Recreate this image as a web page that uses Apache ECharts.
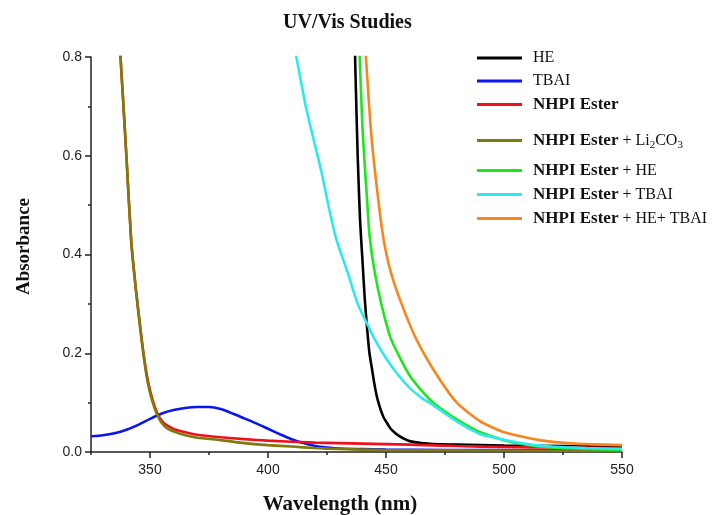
<!DOCTYPE html>
<html>
<head>
<meta charset="utf-8">
<title>UV/Vis Studies</title>
<script src="https://cdn.jsdelivr.net/npm/echarts@6/dist/echarts.min.js"></script>
<style>
  html, body { margin: 0; padding: 0; background: #fff; }
  #chart { width: 715px; height: 515px; }
</style>
</head>
<body>
<div id="chart"></div>
<script>
// wavelength (nm), absorbance pairs
var heData = [[436.5,0.9],[437,0.78],[438,0.6],[439,0.47],[440,0.39],[441,0.31],[442,0.25],[443,0.2],[444,0.17],[445,0.14],[446,0.115],[447,0.097],[448,0.082],[449,0.07],[450,0.062],[452,0.047],[454,0.038],[456,0.031],[458,0.026],[460,0.022],[465,0.018],[470,0.016],[480,0.015],[500,0.013],[525,0.012],[550,0.011]];
var tbaiData = [[325,0.032],[330,0.034],[335,0.038],[340,0.045],[345,0.055],[350,0.067],[355,0.078],[360,0.085],[365,0.089],[370,0.091],[375,0.091],[380,0.087],[385,0.078],[390,0.068],[395,0.058],[400,0.047],[405,0.036],[410,0.026],[415,0.018],[420,0.012],[425,0.009],[430,0.007],[440,0.006],[450,0.005],[475,0.004],[500,0.004],[550,0.003]];
var esterData = [[333,1.2],[335,0.97],[337.5,0.8],[340,0.6],[342,0.43],[344,0.33],[346.5,0.227],[348.5,0.16],[350,0.125],[352,0.092],[354,0.07],[356,0.058],[358,0.052],[361,0.045],[365,0.04],[370,0.035],[380,0.03],[390,0.026],[400,0.023],[420,0.019],[440,0.017],[460,0.015],[480,0.012],[500,0.01],[525,0.009],[550,0.008]];
var liData = [[333,1.2],[335,0.97],[337.5,0.8],[340,0.6],[342,0.43],[344,0.33],[346.5,0.225],[348.5,0.155],[350,0.12],[352,0.088],[354,0.066],[356,0.053],[358,0.046],[361,0.04],[365,0.034],[370,0.029],[380,0.024],[390,0.018],[400,0.014],[410,0.011],[420,0.008],[430,0.006],[450,0.004],[500,0.003],[550,0.002]];
var esterHeData = [[438,0.9],[439,0.78],[440,0.66],[441,0.58],[442,0.51],[443,0.44],[445,0.37],[448,0.3],[452,0.23],[456,0.19],[460,0.155],[465,0.125],[470,0.1],[475,0.082],[480,0.066],[485,0.052],[490,0.04],[500,0.024],[510,0.014],[520,0.009],[535,0.006],[550,0.004]];
var esterTbaiData = [[411,0.82],[412,0.8],[416,0.7],[420,0.62],[423,0.56],[426,0.49],[429,0.43],[434,0.36],[438,0.3],[442,0.26],[445,0.23],[450,0.19],[455,0.157],[460,0.13],[465,0.11],[470,0.095],[475,0.078],[480,0.062],[485,0.048],[490,0.036],[500,0.025],[510,0.016],[520,0.011],[535,0.008],[550,0.006]];
var esterHeTbaiData = [[441,0.86],[441.5,0.8],[444,0.63],[447,0.5],[449,0.43],[452,0.365],[457,0.295],[463,0.227],[471,0.16],[480,0.1],[490,0.062],[500,0.04],[515,0.024],[530,0.017],[550,0.014]];

var seriesNames = ['HE', 'TBAI', 'NHPI Ester', 'NHPI Ester + Li2CO3', 'NHPI Ester + HE', 'NHPI Ester + TBAI', 'NHPI Ester + HE+ TBAI'];
var seriesColors = ['#000000', '#0a14f0', '#f0101a', '#7f7a0c', '#1ee61e', '#2de8ef', '#f7861e'];
var seriesData = [heData, tbaiData, esterData, liData, esterHeData, esterTbaiData, esterHeTbaiData];

var xLabels = [350, 400, 450, 500, 550];
var xMinorTicks = [325, 375, 425, 475, 525];

var serif = 'Liberation Serif';
var sans = 'Liberation Sans';

var chart = echarts.init(document.getElementById('chart'));

var legendText = {
	fontFamily: serif,
	fontSize: 16,
	color: '#111',
	padding: [0, 0, 0, 6],
	rich: {
		b: { fontFamily: serif, fontSize: 17, fontWeight: 'bold', color: '#111' },
		s: { fontFamily: serif, fontSize: 11, color: '#111', padding: [9, 0, 0, 0] }
	}
};
function legendLabel(name) {
	if (name.indexOf('NHPI Ester') !== 0) return name;
	var rest = name.slice(10);
	rest = rest.replace('Li2CO3', 'Li{s|2}CO{s|3}');
	return '{b|NHPI Ester}' + rest;
}
function makeLegend(names, top, gap) {
	return {
		data: names,
		orient: 'vertical',
		left: 477,
		top: top,
		padding: 0,
		itemGap: gap,
		itemWidth: 45,
		itemHeight: 3,
		icon: 'rect',
		selectedMode: false,
		textStyle: legendText,
		formatter: legendLabel
	};
}

var series = seriesNames.map(function (n, i) {
	return {
		name: n,
		type: 'line',
		data: seriesData[i],
		showSymbol: false,
		symbol: 'none',
		smooth: 0.2,
		color: seriesColors[i],
		lineStyle: { width: 2.6, color: seriesColors[i] },
		xAxisIndex: 0,
		yAxisIndex: 0
	};
});

chart.setOption({
	animation: false,
	backgroundColor: '#ffffff',
	title: {
		text: 'UV/Vis Studies',
		left: 278,
		top: 8,
		textStyle: { fontFamily: serif, fontSize: 20, fontWeight: 'bold', color: '#111' }
	},
	legend: [
		makeLegend(seriesNames.slice(0, 3), 50, 7),
		makeLegend(seriesNames.slice(3, 4), 132, 7),
		makeLegend(seriesNames.slice(4), 162, 7)
	],
	grid: { left: 91, right: 93, top: 57, bottom: 63, containLabel: false, outerBoundsMode: 'none' },
	xAxis: [{
		type: 'value',
		min: 325,
		max: 550,
		name: 'Wavelength (nm)',
		nameLocation: 'middle',
		nameGap: 42,
		nameTextStyle: { fontFamily: serif, fontSize: 21, fontWeight: 'bold', color: '#111', padding: [0, 33, 0, 0] },
		axisLine: { lineStyle: { color: '#222', width: 1.5 } },
		axisTick: { customValues: xLabels, length: 6, lineStyle: { color: '#222', width: 1.5 } },
		axisLabel: { customValues: xLabels, margin: 11, fontFamily: sans, fontSize: 14, color: '#222' },
		splitLine: { show: false }
	}, {
		type: 'value',
		min: 325,
		max: 550,
		position: 'bottom',
		axisLine: { show: false },
		axisTick: { customValues: xMinorTicks, length: 3, lineStyle: { color: '#222', width: 1.5 } },
		axisLabel: { show: false },
		splitLine: { show: false }
	}],
	yAxis: {
		type: 'value',
		min: 0,
		max: 0.8,
		interval: 0.2,
		name: 'Absorbance',
		nameLocation: 'middle',
		nameGap: 57,
		nameTextStyle: { fontFamily: serif, fontSize: 19, fontWeight: 'bold', color: '#111', padding: [0, 0, 0, 16] },
		axisLine: { show: true, lineStyle: { color: '#222', width: 1.5 } },
		axisTick: { show: true, length: 6, lineStyle: { color: '#222', width: 1.5 } },
		minorTick: { show: true, splitNumber: 2, length: 3, lineStyle: { color: '#222', width: 1.5 } },
		axisLabel: {
			margin: 9, fontFamily: sans, fontSize: 14, color: '#222',
			formatter: function (v) { return v.toFixed(1); }
		},
		splitLine: { show: false }
	},
	series: series
});
</script>
</body>
</html>
